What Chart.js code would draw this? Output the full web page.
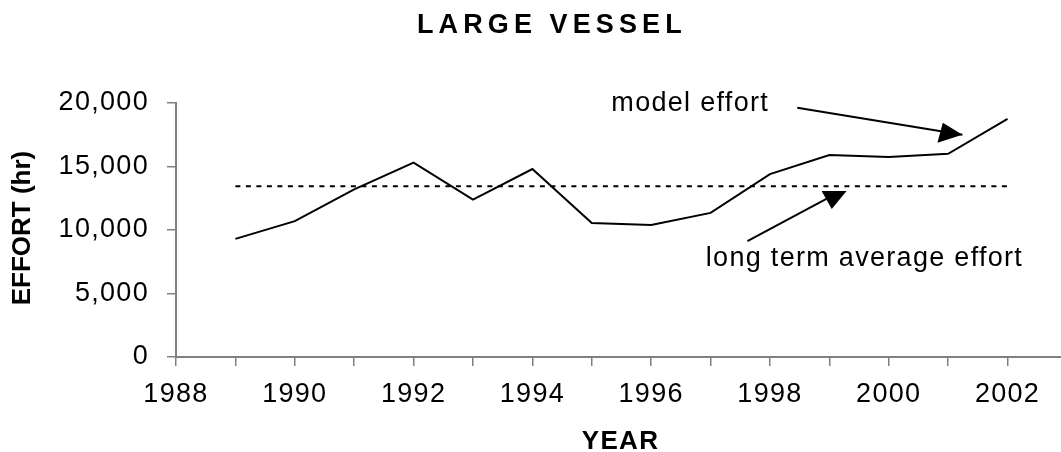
<!DOCTYPE html>
<html lang="en">
<head>
    <meta charset="UTF-8">
    <title>Large Vessel Effort</title>
    <script src="https://cdn.jsdelivr.net/npm/chart.js"></script>
    <style>
        body { margin: 0; background: #fff; }
        #wrap { width: 1061px; height: 452px; }
    </style>
</head>
<body>
    <div id="wrap">
        <canvas id="effort-chart" width="1061" height="452"></canvas>
    </div>

    <script>
        // Data
        const years = [1989, 1990, 1991, 1992, 1993, 1994, 1995, 1996, 1997, 1998, 1999, 2000, 2001, 2002];
        const modelEffort = [9300, 10700, 13200, 15300, 12400, 14800, 10550, 10400, 11350, 14400, 15900, 15750, 16000, 18750];
        const averageEffort = [13450, 13450, 13450, 13450, 13450, 13450, 13450, 13450, 13450, 13450, 13450, 13450, 13450, 13450];
        const xTickYears = [1988, 1989, 1990, 1991, 1992, 1993, 1994, 1995, 1996, 1997, 1998, 1999, 2000, 2001, 2002];
        const yTickValues = [0, 5000, 10000, 15000, 20000];

        // Annotation text and arrows, in data units (year, effort)
        const labelModel = { text: 'model effort', x: 1995.33, y: 19390 };
        const labelAverage = { text: 'long term average effort', x: 1996.92, y: 7160 };
        const arrowModel = { from: [1998.46, 19630], to: [2001.24, 17500],
                             head: [[2000.91, 18445], [2000.82, 16867], [2001.24, 17500]] };
        const arrowAverage = { from: [1997.62, 9130], to: [1998.95, 12450],
                               head: [[1998.87, 13080], [1999.29, 13080], [1999.04, 11660]] };

        const FONT = '"Liberation Sans", Arial, sans-serif';
        const pts = (xs, ys) => xs.map((x, i) => ({ x: x, y: ys[i] }));

        const textPlugin = {
            id: 'textPlugin',
            beforeDraw(chart) {
                chart.ctx.letterSpacing = '1.3px';
            },
            afterDatasetsDraw(chart) {
                const ctx = chart.ctx;
                const xs = chart.scales.x, ys = chart.scales.y;
                const px = p => [xs.getPixelForValue(p[0]), ys.getPixelForValue(p[1])];

                ctx.save();
                ctx.strokeStyle = '#000';
                ctx.fillStyle = '#000';
                ctx.lineWidth = 2;
                [arrowModel, arrowAverage].forEach(a => {
                    const f = px(a.from), t = px(a.to);
                    ctx.beginPath();
                    ctx.moveTo(f[0], f[1]);
                    ctx.lineTo(t[0], t[1]);
                    ctx.stroke();
                    ctx.beginPath();
                    a.head.forEach((h, i) => {
                        const q = px(h);
                        if (i === 0) ctx.moveTo(q[0], q[1]); else ctx.lineTo(q[0], q[1]);
                    });
                    ctx.closePath();
                    ctx.fill();
                });

                ctx.font = '27px ' + FONT;
                ctx.letterSpacing = '1.3px';
                ctx.textAlign = 'left';
                ctx.textBaseline = 'alphabetic';
                [labelModel, labelAverage].forEach(l => {
                    const p = px([l.x, l.y]);
                    ctx.fillText(l.text, p[0], p[1]);
                });
                ctx.restore();
            },
            afterDraw(chart) {
                const ctx = chart.ctx;
                const area = chart.chartArea;
                ctx.save();
                ctx.fillStyle = '#000';
                ctx.textBaseline = 'alphabetic';

                // main title
                ctx.font = 'bold 27px ' + FONT;
                ctx.letterSpacing = '5.1px';
                ctx.textAlign = 'left';
                ctx.fillText('LARGE VESSEL', 417, 33);

                // x axis title
                ctx.font = 'bold 26px ' + FONT;
                ctx.letterSpacing = '1.3px';
                ctx.textAlign = 'center';
                ctx.fillText('YEAR', (area.left + area.right) / 2 + 2, 449);

                // y axis title
                ctx.letterSpacing = '0px';
                ctx.translate(23, (area.top + area.bottom) / 2 - 2);
                ctx.rotate(-Math.PI / 2);
                ctx.textBaseline = 'middle';
                ctx.fillText('EFFORT (hr)', 0, 0);
                ctx.restore();
            }
        };

        const ctx = document.getElementById('effort-chart').getContext('2d');
        const effortChart = new Chart(ctx, {
            type: 'line',
            data: {
                datasets: [
                    { label: 'model effort', data: pts(years, modelEffort), borderColor: '#000', borderWidth: 2, pointRadius: 0, tension: 0, fill: false },
                    { label: 'long term average effort', data: pts(years, averageEffort), borderColor: '#000', borderWidth: 2, borderDash: [5, 5.5], pointRadius: 0, tension: 0, fill: false }
                ]
            },
            options: {
                responsive: false,
                animation: false,
                layout: { padding: { top: 103, left: 0, right: 0, bottom: 0 } },
                plugins: { legend: { display: false }, title: { display: false }, tooltip: { enabled: false } },
                scales: {
                    x: {
                        type: 'linear',
                        min: 1988,
                        max: 2002.9,
                        afterFit: s => { s.height = 95; },
                        afterBuildTicks: s => { s.ticks = xTickYears.map(v => ({ value: v })); },
                        border: { color: '#808080', width: 2 },
                        grid: { drawOnChartArea: false, drawTicks: true, tickLength: 9, color: '#808080', lineWidth: 1.5 },
                        ticks: {
                            autoSkip: false,
                            maxRotation: 0,
                            padding: 12,
                            color: '#000',
                            font: { family: FONT, size: 27 },
                            callback: v => (v % 2 === 0 ? String(v) : '')
                        }
                    },
                    y: {
                        min: 0,
                        max: 20000,
                        afterFit: s => { s.width = 176; },
                        afterBuildTicks: s => { s.ticks = yTickValues.map(v => ({ value: v })); },
                        border: { color: '#808080', width: 2 },
                        grid: { drawOnChartArea: false, drawTicks: true, tickLength: 9, color: '#808080', lineWidth: 1.5 },
                        ticks: {
                            padding: 18,
                            color: '#000',
                            font: { family: FONT, size: 27 },
                            callback: v => v.toLocaleString('en-US')
                        }
                    }
                }
            },
            plugins: [textPlugin]
        });
    </script>
</body>
</html>
